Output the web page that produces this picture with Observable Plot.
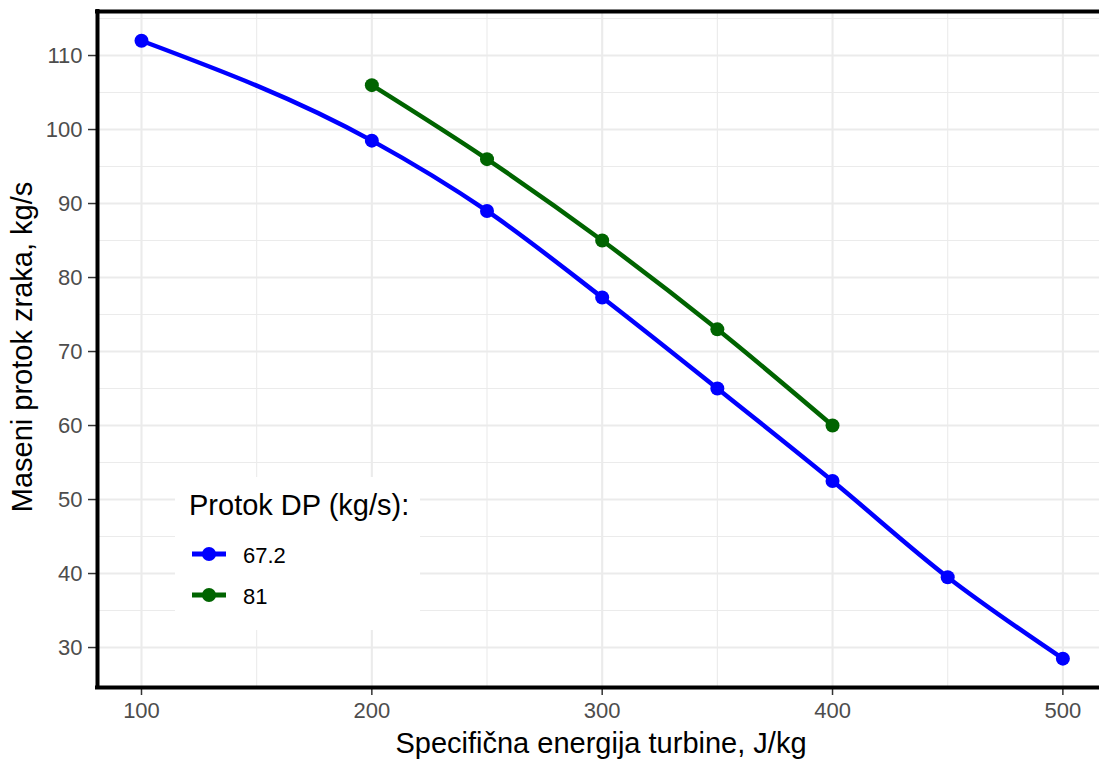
<!DOCTYPE html>
<html>
<head>
<meta charset="utf-8">
<script src="https://cdn.jsdelivr.net/npm/d3@7"></script>
<script src="https://cdn.jsdelivr.net/npm/@observablehq/plot@0.6"></script>
<style>
  html, body { margin: 0; padding: 0; background: #ffffff; }
  #chart { width: 1099px; height: 760px; overflow: hidden; }
</style>
</head>
<body>
<div id="chart"></div>
<script>
// ---- data ----
const energy672 = [100, 200, 250, 300, 350, 400, 450, 500];
const flow672   = [112, 98.5, 89, 77.3, 65, 52.5, 39.5, 28.5];
const energy81  = [200, 250, 300, 350, 400];
const flow81    = [106, 96, 85, 73, 60];
const seriesNames  = ["67.2", "81"];
const seriesColors = ["#0000ff", "#006400"];
const xMajor = [100, 200, 300, 400, 500];
const xMinor = [150, 250, 350, 450];
const yMajor = [30, 40, 50, 60, 70, 80, 90, 100, 110];
const yMinor = [35, 45, 55, 65, 75, 85, 95, 105, 115];
const xTitle = "Specifična energija turbine, J/kg";
const yTitle = "Maseni protok zraka, kg/s";
const legendTitle = "Protok DP (kg/s):";

const rows = [
  ...energy672.map((e, i) => ({e, m: flow672[i], s: seriesNames[0]})),
  ...energy81.map((e, i) => ({e, m: flow81[i], s: seriesNames[1]}))
];

const xDom = [80.9, 515.9];
const yDom = [24.6, 115.95];
const font = "'Liberation Sans', Arial, Helvetica, sans-serif";

const svg = Plot.plot({
  width: 1099,
  height: 760,
  marginLeft: 97,
  marginRight: 0,
  marginTop: 11,
  marginBottom: 73,
  style: {fontFamily: font, background: "#ffffff", overflow: "hidden"},
  x: {domain: xDom},
  y: {domain: yDom},
  color: {domain: seriesNames, range: seriesColors},
  marks: [
    Plot.gridX(xMinor, {stroke: "#ebebeb", strokeOpacity: 1, strokeWidth: 1.1}),
    Plot.gridY(yMinor, {stroke: "#ebebeb", strokeOpacity: 1, strokeWidth: 1.1}),
    Plot.gridX(xMajor, {stroke: "#ebebeb", strokeOpacity: 1, strokeWidth: 2.1}),
    Plot.gridY(yMajor, {stroke: "#ebebeb", strokeOpacity: 1, strokeWidth: 2.1}),
    Plot.line(rows, {x: "e", y: "m", z: "s", stroke: "s", strokeWidth: 4.5, curve: "monotone-x"}),
    Plot.dot(rows, {x: "e", y: "m", fill: "s", r: 7}),
    Plot.axisX(xMajor, {tickSize: 8, tickPadding: 7, fontSize: 22, fill: "#4d4d4d", stroke: "#333333", strokeWidth: 1.5, label: null}),
    Plot.axisY(yMajor, {tickSize: 9, tickPadding: 6, fontSize: 22, fill: "#4d4d4d", stroke: "#333333", strokeWidth: 1.5, label: null}),
    Plot.ruleX([xDom[0]], {stroke: "#000", strokeWidth: 4, strokeLinecap: "square"}),
    Plot.ruleY([yDom[0]], {stroke: "#000", strokeWidth: 4, strokeLinecap: "square"}),
    Plot.ruleY([yDom[1]], {stroke: "#000", strokeWidth: 4, strokeLinecap: "square"})
  ]
});

const s = d3.select(svg);
s.selectAll('g[aria-label$="tick label"]').attr("font-size", 22);

// axis titles
s.append("text")
  .attr("x", 601).attr("y", 753)
  .attr("text-anchor", "middle")
  .attr("font-size", 29).attr("fill", "#000")
  .attr("font-family", font)
  .text(xTitle);
s.append("text")
  .attr("transform", "translate(32,347) rotate(-90)")
  .attr("text-anchor", "middle")
  .attr("font-size", 29).attr("fill", "#000")
  .attr("font-family", font)
  .text(yTitle);

// legend
const lg = s.append("g").attr("font-family", font).attr("text-anchor", "start");
lg.append("rect").attr("x", 175).attr("y", 477).attr("width", 245).attr("height", 153).attr("fill", "#ffffff");
lg.append("text").attr("x", 189).attr("y", 515).attr("text-anchor", "start").attr("font-size", 29).attr("fill", "#000").text(legendTitle);
seriesNames.forEach((name, i) => {
  const cy = 554 + i * 41;
  lg.append("line").attr("x1", 192).attr("x2", 226).attr("y1", cy).attr("y2", cy)
    .attr("stroke", seriesColors[i]).attr("stroke-width", 5);
  lg.append("circle").attr("cx", 209).attr("cy", cy).attr("r", 7).attr("fill", seriesColors[i]);
  lg.append("text").attr("x", 243).attr("y", cy + 8.5).attr("text-anchor", "start").attr("font-size", 22).attr("fill", "#000").text(name);
});

document.getElementById("chart").appendChild(svg);
</script>
</body>
</html>
